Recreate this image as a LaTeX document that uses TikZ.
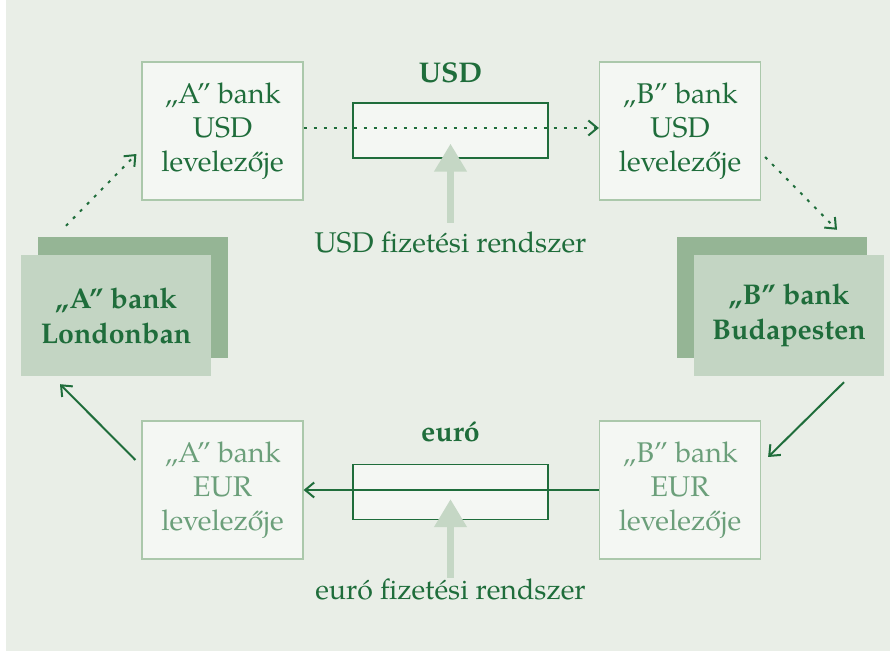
\documentclass[tikz,border=0pt]{standalone}
\usepackage{fontspec}
\setmainfont{texgyrepagella}[Extension=.otf, UprightFont=*-regular, BoldFont=*-bold, ItalicFont=*-italic, BoldItalicFont=*-bolditalic]
\usetikzlibrary{arrows.meta,positioning,shadows}
\definecolor{hatter}{HTML}{E9EEE7}
\definecolor{doboz}{HTML}{F4F7F3}
\definecolor{keret}{HTML}{ABC8AB}
\definecolor{sotet}{HTML}{1F6D3B}
\definecolor{halvany}{HTML}{6B9F7A}
\definecolor{bankszin}{HTML}{C3D5C3}
\definecolor{arnyek}{HTML}{95B595}
\definecolor{rendszerszin}{HTML}{C5D7C5}
\tikzset{
	%Define standard arrow tip
	>={Straight Barb[length=9pt,width=15pt]},
	%Define style for correspondent boxes
	levelezo/.style={
		rectangle,
		draw=keret, line width=1.2pt,
		fill=doboz,
		text=sotet,
		minimum width=161pt,
		minimum height=138pt,
		align=center,
		font=\fontsize{28.5}{34}\selectfont},
	eurszoveg/.style={text=halvany},
	% Define style for payment system boxes
	rendszer/.style={
		rectangle,
		draw=sotet, line width=1.2pt,
		fill=doboz,
		minimum width=195pt,
		minimum height=55pt},
	% Define style for the banks
	bank/.style={
		rectangle,
		fill=bankszin,
		text=sotet,
		minimum width=190pt,
		minimum height=121pt,
		align=center,
		font=\fontsize{28.5}{35}\selectfont\bfseries},
	cimke/.style={text=sotet, inner sep=0pt, font=\fontsize{28.5}{34}\selectfont\bfseries},
	felirat/.style={text=sotet, inner sep=0pt, anchor=base, text height=20pt, text depth=6pt,
		font=\fontsize{28.5}{34}\selectfont},
	% Define arrow styles
	pil/.style={
		->,
		line width=2pt,
		draw=sotet},
	pontozott/.style={pil, dash pattern=on 3pt off 7pt},
	nagynyil/.style={
		-{Triangle[length=28pt,width=31pt]},
		line width=7pt,
		draw=rendszerszin}
}
\begin{document}
\begin{tikzpicture}[x=1pt,y=1pt]
	\useasboundingbox (0,0) rectangle (890,652);
	\fill[hatter] (6,1) rectangle (890,652);
	% node A bank USD levelezoje
	\node[levelezo] (ausd) at (222.5,521) {„A” bank\\USD\\levelezője};
	% node B bank USD levelezoje
	\node[levelezo] (busd) at (680,521) {„B” bank\\USD\\levelezője};
	% node A bank EUR levelezoje
	\node[levelezo, eurszoveg] (aeur) at (222.5,162) {„A” bank\\EUR\\levelezője};
	% node B bank EUR levelezoje
	\node[levelezo, eurszoveg] (beur) at (680,162) {„B” bank\\EUR\\levelezője};
	% payment systems
	\node[rendszer] (usdrsz) at (450.5,521.5) {};
	\node[rendszer] (eurrsz) at (450.5,160) {};
	\node[cimke, above=19pt of usdrsz] (usdcim) {USD};
	\node[cimke, above=22pt of eurrsz] (eurcim) {euró};
	\node[felirat] (usdfiz) at (450.5,399) {USD fizetési rendszer};
	\node[felirat] (eurfiz) at (450.5,52) {euró fizetési rendszer};
	% node A bank Londonban
	\node[bank, copy shadow={shadow xshift=17pt, shadow yshift=18pt, fill=arnyek, draw=none}] (alondon) at (116,336.5) {„A” bank\\Londonban};
	% node B bank Budapesten
	\node[bank, copy shadow={shadow xshift=-17pt, shadow yshift=18pt, fill=arnyek, draw=none}] (bbudapest) at (789,336.5) {„B” bank\\Budapesten};
	\draw[nagynyil] ([yshift=10pt]usdfiz.north) -- ([yshift=15pt]usdrsz.south);
	\draw[nagynyil] ([yshift=2pt]eurfiz.north) -- ([yshift=21pt]eurrsz.south);
	\draw[pontozott] ([shift={(-50,29)}]alondon.north) -- ([shift={(-5,-23)}]ausd.west);
	\draw[pontozott] ([yshift=3pt]ausd.east) -- ([yshift=3pt]busd.west);
	\draw[pontozott] ([shift={(4,-26)}]busd.east) -- ([shift={(48,25)}]bbudapest.north);
	\draw[pil] ([shift={(55,-6)}]bbudapest.south) -- ([shift={(7,33)}]beur.east);
	\draw[pil] (beur.west) -- (aeur.east);
	\draw[pil] ([shift={(-6,30)}]aeur.west) -- ([shift={(-56,-8)}]alondon.south);
\end{tikzpicture}
\end{document}
